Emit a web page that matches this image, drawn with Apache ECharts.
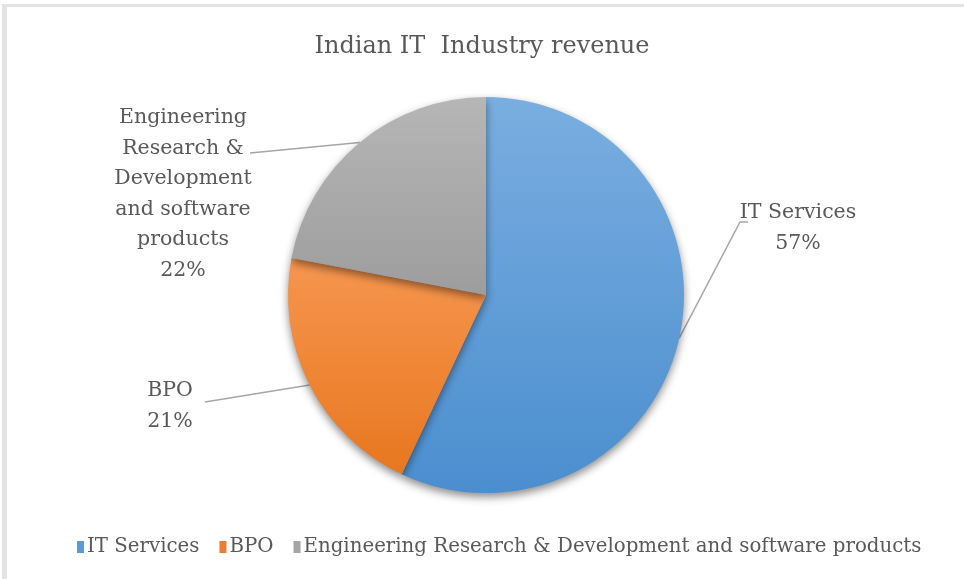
<!DOCTYPE html>
<html>
<head>
<meta charset="utf-8">
<title>Indian IT Industry revenue</title>
<script src="https://cdn.jsdelivr.net/npm/echarts@6/dist/echarts.min.js"></script>
<style>
    html, body { margin: 0; padding: 0; background: #fff; }
    #chart { position: absolute; left: 0; top: 0; width: 964px; height: 579px; }
    /* light frame on the top and left edge, like the screenshot */
    #frame {
        position: absolute; left: 2px; top: 4px; width: 962px; height: 575px;
        border-top: 3px solid #e3e3e3; border-left: 5px solid #e3e3e3;
        box-sizing: border-box; pointer-events: none;
    }
</style>
</head>
<body>
<div id="chart"></div>
<div id="frame"></div>
<script>
// data
const categories = ['IT Services', 'BPO', 'Engineering Research & Development and software products'];
const shares = [57, 21, 22];
const labelNames = ['IT Services', 'BPO', 'Engineering\nResearch &\nDevelopment\nand software\nproducts'];

// Excel-like gradient fills (top -> bottom)
const fills = [
    ['#7aaee0', '#4b8ecf'],
    ['#f6964f', '#e8771f'],
    ['#b6b6b6', '#9d9d9d']
];
const legendColors = ['#5b9bd5', '#ed7d31', '#a5a5a5'];

// where Excel put the data labels, and where their leader lines end
const labelSpots = [[798, 228], [170, 406], [183, 194]];
const leaderEnds = [
    [[740, 222], [748, 222]],
    [[205, 402]],
    [[250, 153]]
];

const chart = echarts.init(document.getElementById('chart'));

const option = {
    animation: false,
    title: {
        text: 'Indian IT  Industry revenue',
        left: 'center',
        top: 30,
        textStyle: {
            fontFamily: 'DejaVu Serif',
            fontSize: 24,
            fontWeight: 'normal',
            color: '#595959'
        }
    },
    legend: {
        bottom: 17,
        left: 72,
        itemWidth: 7,
        itemHeight: 12,
        itemGap: 20,
        icon: 'rect',
        data: categories.map((name, i) => ({ name, itemStyle: { color: legendColors[i] } })),
        textStyle: {
            fontFamily: 'DejaVu Serif',
            fontSize: 19.8,
            color: '#595959',
            padding: [0, 0, 0, -2]
        }
    },
    series: [
        {
            type: 'pie',
            center: [486, 295],
            radius: 198,
            startAngle: 90,
            clockwise: true,
            data: categories.map((name, i) => ({
                name,
                value: shares[i],
                itemStyle: {
                    color: new echarts.graphic.LinearGradient(0, 0, 0, 1, [
                        { offset: 0, color: fills[i][0] },
                        { offset: 1, color: fills[i][1] }
                    ])
                }
            })),
            itemStyle: {
                shadowBlur: 8,
                shadowOffsetY: 4,
                shadowColor: 'rgba(0,0,0,0.45)'
            },
            label: {
                show: true,
                position: 'outside',
                formatter: p => labelNames[p.dataIndex] + '\n' + p.value + '%',
                fontFamily: 'DejaVu Serif',
                fontSize: 20.5,
                lineHeight: 30.5,
                color: '#595959',
                align: 'center'
            },
            labelLine: {
                show: true,
                length: 20,
                length2: 10,
                lineStyle: { color: '#a6a6a6', width: 1.5 }
            },
            labelLayout: params => {
                const spot = labelSpots[params.dataIndex];
                // keep the start point ECharts puts on the slice edge
                const start = params.labelLinePoints ? params.labelLinePoints[0] : null;
                const out = {
                    x: spot[0],
                    y: spot[1],
                    align: 'center',
                    verticalAlign: 'middle'
                };
                if (start) {
                    out.labelLinePoints = [start].concat(leaderEnds[params.dataIndex]);
                }
                return out;
            },
            emphasis: { disabled: true }
        }
    ]
};

chart.setOption(option);

window.addEventListener('resize', () => {
    chart.resize();
});
</script>
</body>
</html>
